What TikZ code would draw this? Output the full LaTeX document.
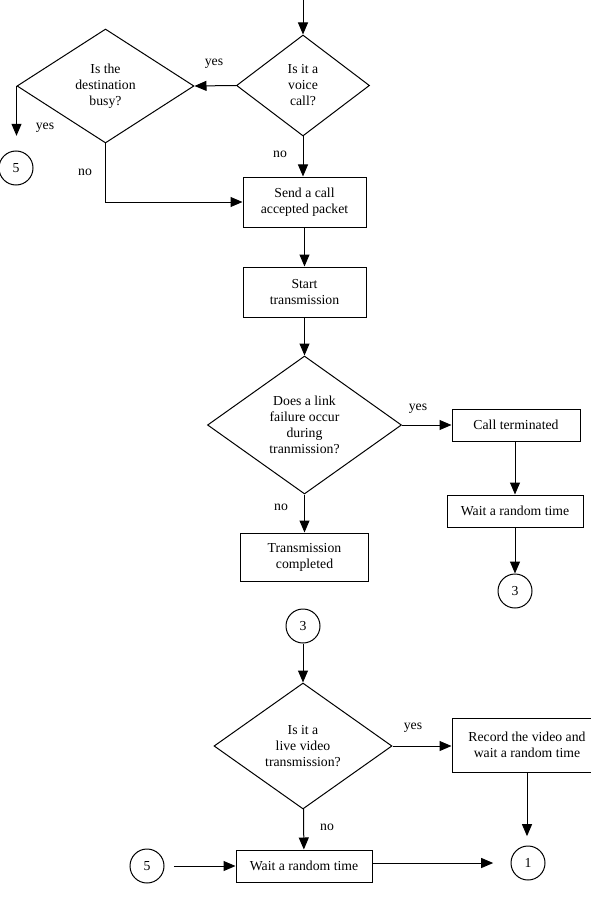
\documentclass[tikz,border=0pt]{standalone}
\usepackage{fontspec}
\setmainfont{Liberation Serif}
\usetikzlibrary{arrows.meta,shapes.geometric}

\begin{document}
\begin{tikzpicture}[x=0.75pt, y=-0.75pt,
  txt/.style={font=\fontsize{10.3}{12}\selectfont},
  box/.style={txt, draw, line width=0.75pt, inner sep=0pt, align=center},
  dec/.style={txt, draw, diamond, aspect=1.4, line width=0.75pt, inner sep=0pt, align=center},
  conn/.style={txt, draw, circle, line width=0.75pt, minimum size=25.5pt, inner sep=0pt},
  lab/.style={txt},
  arr/.style={-{Triangle[length=9pt, width=7.5pt]}, line width=0.75pt}]
  \useasboundingbox (0,0) rectangle (591,913);
  % ---------------- call set-up
  \coordinate (top) at (303,0);
  \node[dec, minimum width=99.75pt, minimum height=75.75pt] (voice) at (303,85.5) {Is it a\\voice\\call?};
  \node[dec, minimum width=132.75pt, minimum height=85.5pt] (busy) at (105.5,86) {Is the\\destination\\busy?};
  \node[conn] (c5a) at (16,168) {5};
  \node[box, minimum width=92.25pt, minimum height=37.5pt] (send) at (304.5,202) {Send a call\\accepted packet};
  \node[box, minimum width=92.25pt, minimum height=37.5pt] (start) at (304.5,292) {Start\\transmission};
  \draw[arr] (top) -- (voice.north);
  \draw[arr] (voice.west) -- (busy.east);
  \draw[arr, shorten >=11pt] (busy.west) -- (busy.west |- c5a.north);
  \draw[arr] (busy.south) |- (send.west);
  \draw[arr] (voice.south) -- (voice.south |- send.north);
  \draw[arr] (send) -- (start);
  \node[lab] at (214,64) {yes};
  \node[lab] at (45,128) {yes};
  \node[lab] at (85,172) {no};
  \node[lab] at (280,154) {no};
  % ---------------- transmission
  \node[dec, minimum width=145.5pt, minimum height=103.5pt] (link) at (304.5,425) {Does a link\\failure occur\\during\\tranmission?};
  \node[box, minimum width=96pt, minimum height=24pt] (term) at (516,425) {Call terminated};
  \node[box, minimum width=102pt, minimum height=24pt] (wait1) at (515,511) {Wait a random time};
  \node[conn] (c3a) at (515,591) {3};
  \node[box, minimum width=96pt, minimum height=36pt] (done) at (304.5,557) {Transmission\\completed};
  \draw[arr] (start) -- (link);
  \draw[arr] (link.east) -- (term.west);
  \draw[arr] (term.south -| wait1) -- (wait1.north);
  \draw[arr] (wait1) -- (c3a);
  \draw[arr] (link) -- (done);
  \node[lab] at (418,409) {yes};
  \node[lab] at (281,507) {no};
  % ---------------- after a failure
  \node[conn] (c3b) at (303,626) {3};
  \node[dec, minimum width=133.5pt, minimum height=94.5pt] (live) at (303,746) {Is it a\\live video\\transmission?};
  \node[box, minimum width=112.5pt, minimum height=40.5pt] (rec) at (527,745) {Record the video and\\wait a random time};
  \node[conn] (c1) at (528,863) {1};
  \node[box, minimum width=102pt, minimum height=24pt] (wait2) at (304,866) {Wait a random time};
  \node[conn] (c5b) at (147,866) {5};
  \draw[arr] (c3b) -- (live);
  \draw[arr] (live.east) -- (live.east -| rec.west);
  \draw[arr, shorten >=7pt] (rec.south) -- (rec.south |- c1.north);
  \draw[arr] (live) -- (wait2);
  \draw[arr, shorten <=7pt] (c5b) -- (wait2);
  \draw[arr, shorten >=13pt] (wait2.east |- c1) -- (c1);
  \node[lab] at (413,728) {yes};
  \node[lab] at (327,827) {no};
\end{tikzpicture}
\end{document}
